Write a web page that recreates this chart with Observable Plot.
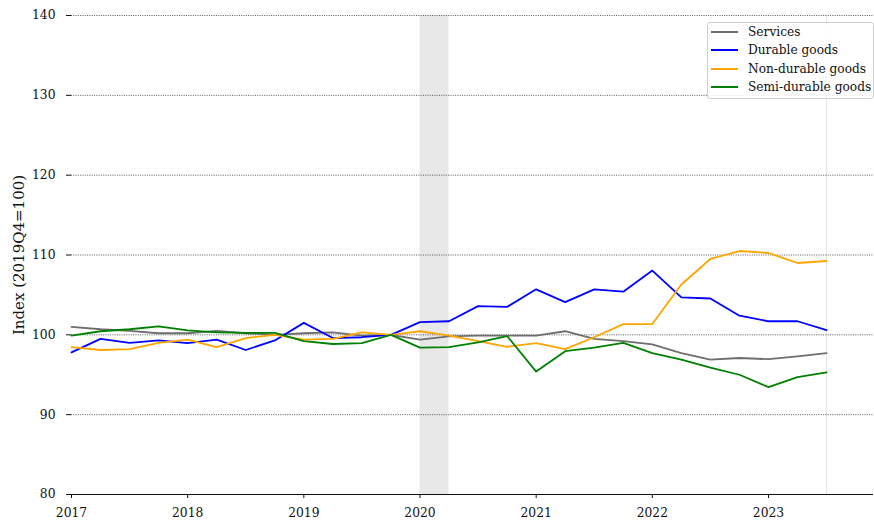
<!DOCTYPE html>
<html>
<head>
<meta charset="utf-8">
<script src="https://cdn.jsdelivr.net/npm/d3@7"></script>
<script src="https://cdn.jsdelivr.net/npm/@observablehq/plot@0.6"></script>
<style>
  html, body { margin: 0; padding: 0; background: #fff; }
  #wrap { position: relative; width: 874px; height: 527px; font-family: "DejaVu Serif", serif; }
  #legend { position: absolute; left: 707px; top: 22px; width: 167px; height: 77px; box-sizing: border-box;
    border: 1px solid #d0d0d0; border-radius: 3px; background: rgba(255,255,255,0.85); font-size: 12.2px; color: #111; }
  .item { position: absolute; left: 3px; height: 18px; display: flex; align-items: center; white-space: nowrap; }
  .sw { width: 27px; height: 0; border-top: 2px solid; margin-right: 10px; }
</style>
</head>
<body>
<div id="wrap"><div id="legend"></div></div>
<script>
const quarters = ["2017Q1","2017Q2","2017Q3","2017Q4","2018Q1","2018Q2","2018Q3","2018Q4",
  "2019Q1","2019Q2","2019Q3","2019Q4","2020Q1","2020Q2","2020Q3","2020Q4",
  "2021Q1","2021Q2","2021Q3","2021Q4","2022Q1","2022Q2","2022Q3","2022Q4",
  "2023Q1","2023Q2","2023Q3"];

const services   = [101.0,100.7,100.5,100.2,100.2,100.5,100.2,100.0,100.2,100.3,99.9,100.0,
  99.4,99.8,99.9,99.9,99.9,100.45,99.5,99.2,98.8,97.7,96.9,97.1,96.95,97.3,97.7];
const durable    = [97.8,99.5,99.0,99.3,98.95,99.4,98.1,99.3,101.5,99.6,99.7,100.0,
  101.6,101.7,103.6,103.5,105.7,104.1,105.7,105.4,108.05,104.7,104.55,102.4,101.7,101.7,100.6];
const nondurable = [98.45,98.1,98.2,99.0,99.4,98.45,99.6,100.0,99.4,99.5,100.3,100.0,
  100.45,99.9,99.2,98.5,98.95,98.2,99.7,101.35,101.35,106.3,109.5,110.5,110.25,109.0,109.25];
const semidurable= [99.9,100.45,100.7,101.05,100.55,100.3,100.25,100.25,99.2,98.85,98.95,100.0,
  98.4,98.45,99.05,99.85,95.4,97.95,98.4,99.0,97.7,96.9,95.9,95.0,93.45,94.7,95.3];

const seriesNames = ["Services","Durable goods","Non-durable goods","Semi-durable goods"];
const seriesColors = ["#6e6e6e","#0000ff","#ffa500","#008000"];
const seriesValues = [services, durable, nondurable, semidurable];

const yTicks = [80,90,100,110,120,130,140];
const xTicks = [2017,2018,2019,2020,2021,2022,2023];
const recession = [{start: "2020Q1", end: "2020Q2"}];
const lastObs = ["2023Q3"];
const yLabel = "Index (2019Q4=100)";

const qToYear = q => +q.slice(0,4) + (+q.slice(5) - 1) / 4;

const rows = [];
seriesNames.forEach((name, si) => {
  quarters.forEach((q, i) => rows.push({series: name, t: qToYear(q), v: seriesValues[si][i]}));
});

const plot = Plot.plot({
  width: 874,
  height: 527,
  marginLeft: 71,
  marginRight: 1,
  marginTop: 15,
  marginBottom: 33,
  style: {fontFamily: "DejaVu Serif", fontSize: "12px", color: "#111", background: "white"},
  x: {domain: [2017, 2023.904], ticks: xTicks, tickFormat: d3.format("d")},
  y: {domain: [80, 140], ticks: yTicks},
  color: {domain: seriesNames, range: seriesColors},
  marks: [
    Plot.rectX(recession, {x1: d => qToYear(d.start), x2: d => qToYear(d.end), fill: "#e8e8e8"}),
    Plot.ruleX(lastObs.map(qToYear), {stroke: "#e4e4e4", strokeWidth: 1}),
    Plot.gridY(yTicks.filter(d => d > 80), {stroke: "#444", strokeOpacity: 1, strokeWidth: 0.9, strokeDasharray: "1,1.3"}),
    Plot.axisY({ticks: yTicks, tickSize: 5, tickPadding: 11, label: null, fontSize: 12.3}),
    Plot.axisX({ticks: xTicks, tickSize: 4, tickPadding: 10, label: null, tickFormat: d3.format("d"), fontSize: 12.3}),
    Plot.ruleY([80], {stroke: "#111", strokeWidth: 1}),
    Plot.lineY(rows, {x: "t", y: "v", z: "series", stroke: "series", strokeWidth: 1.8}),
    Plot.text([yLabel], {frameAnchor: "left", text: d => d, rotate: -90, textAnchor: "middle", lineAnchor: "middle", dx: -52.5, fontSize: 15, fill: "#111"})
  ]
});
document.getElementById("wrap").prepend(plot);

const legend = document.getElementById("legend");
seriesNames.forEach((name, i) => {
  const it = document.createElement("div");
  it.className = "item";
  it.style.top = (0 + i * 18.3) + "px";
  it.innerHTML = `<span class="sw" style="border-color:${seriesColors[i]}"></span><span>${name}</span>`;
  legend.appendChild(it);
});
</script>
</body>
</html>
